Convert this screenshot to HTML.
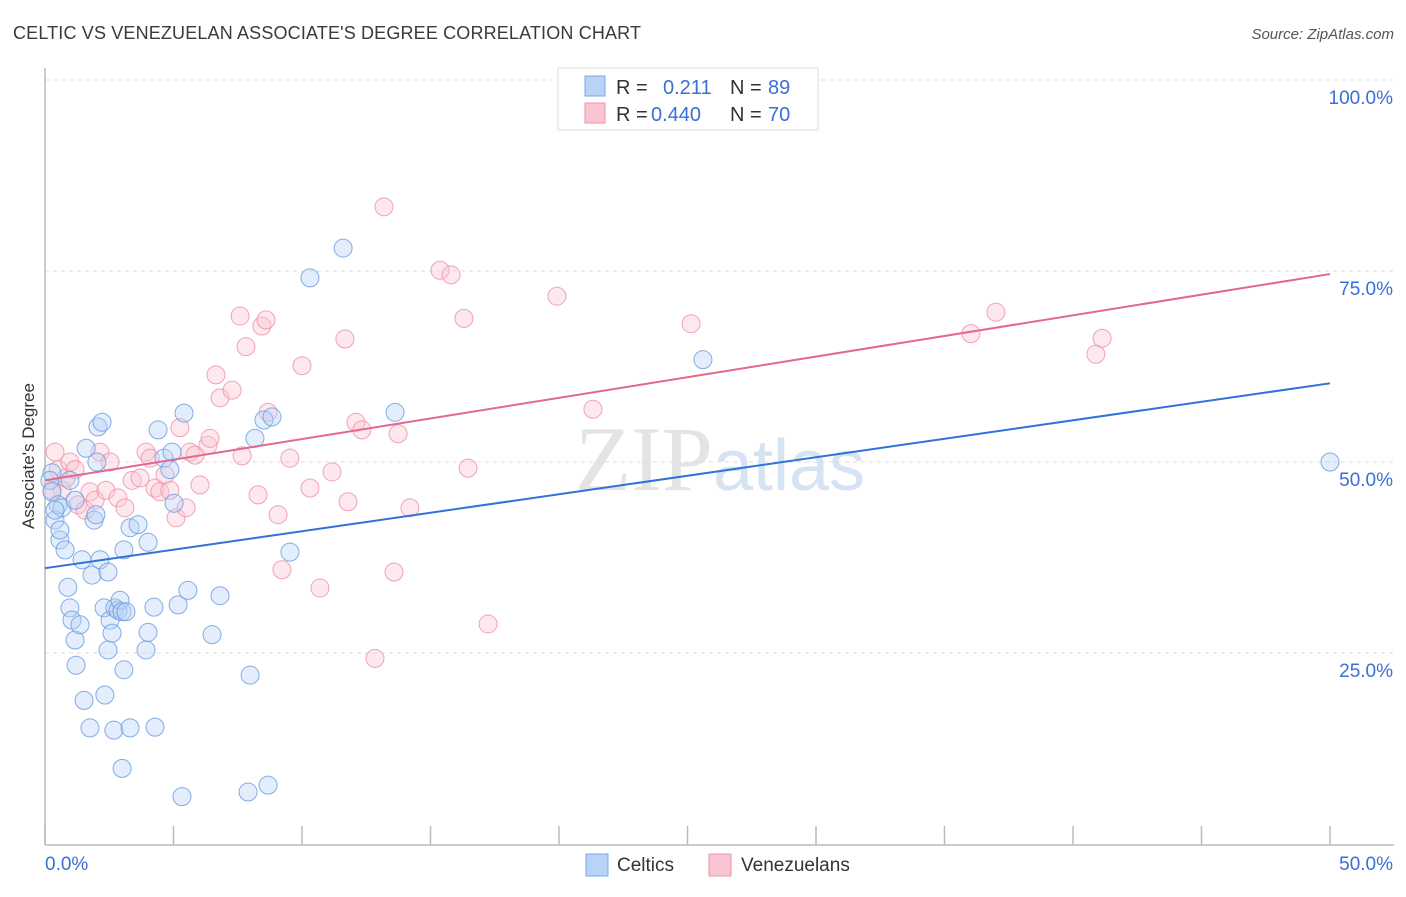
<!DOCTYPE html>
<html><head><meta charset="utf-8"><style>
body{margin:0;background:#fff;font-family:"Liberation Sans",sans-serif}
</style></head><body>
<svg id="chart" width="1406" height="892" xmlns="http://www.w3.org/2000/svg">
<text x="13" y="39" font-size="18" textLength="628" fill="#3a3a3a" font-family="Liberation Sans, sans-serif">CELTIC VS VENEZUELAN ASSOCIATE'S DEGREE CORRELATION CHART</text>
<text x="1394" y="39" font-size="15" fill="#555" text-anchor="end" font-style="italic" font-family="Liberation Sans, sans-serif">Source: ZipAtlas.com</text>
<text x="720" y="490" font-size="92" fill="#e4e4e4" text-anchor="middle" font-family="Liberation Serif, serif">ZIP<tspan fill="#d5e3f3" font-family="Liberation Sans, sans-serif" font-size="72">atlas</tspan></text>
<g id="grid"></g><g id="axes"></g><g id="marks"></g>
<text transform="translate(34,456) rotate(-90)" font-size="17" fill="#333" text-anchor="middle" font-family="Liberation Sans, sans-serif">Associate's Degree</text>
<g font-size="20">
<rect x="558" y="68" width="260" height="62" fill="#fff" stroke="#ddd"/>
<rect x="585" y="76" width="20" height="20" fill="#b8d3f5" stroke="#7aaae8"/>
<rect x="585" y="103" width="20" height="20" fill="#f9c5d3" stroke="#ee93ae"/>
<text x="616" y="94" fill="#333">R =</text><text x="663" y="94" fill="#3a6fd6">0.211</text>
<text x="730" y="94" fill="#333">N =</text><text x="768" y="94" fill="#3a6fd6">89</text>
<text x="616" y="121" fill="#333">R =</text><text x="651" y="121" fill="#3a6fd6">0.440</text>
<text x="730" y="121" fill="#333">N =</text><text x="768" y="121" fill="#3a6fd6">70</text>
</g>
<g>
<rect x="586" y="854" width="22" height="22" fill="#b8d3f5" stroke="#7aaae8"/>
<text x="617" y="871" font-size="19" fill="#333">Celtics</text>
<rect x="709" y="854" width="22" height="22" fill="#f9c5d3" stroke="#ee93ae"/>
<text x="741" y="871" font-size="19" fill="#333">Venezuelans</text>
</g>
</svg>
<script>
const yTicks=[25,50,75,100];
const yTickLabels=["25.0%","50.0%","75.0%","100.0%"];
const xTicks=[0,5,10,15,20,25,30,35,40,45,50];
const blueX=[0.27,0.19,0.27,0.39,0.51,0.58,0.66,0.78,0.89,0.97,1.05,1.17,1.21,1.36,1.44,1.52,1.60,1.75,1.83,1.91,1.98,2.02,2.06,2.22,2.14,2.30,2.33,2.45,2.45,2.53,2.61,2.68,2.72,2.84,2.92,3.00,3.07,3.07,3.00,3.15,3.31,3.31,3.62,3.93,4.01,4.01,4.24,4.28,4.40,4.63,4.86,4.94,5.02,5.18,5.33,5.41,5.56,6.50,6.81,7.98,7.90,8.17,8.52,8.68,8.83,9.53,10.31,11.60,13.62,25.60,50.0,0.39,0.58,1.17,0.97];
const blueY=[48.6,47.6,46.1,42.4,44.4,39.8,44.0,38.5,33.6,30.9,29.3,26.7,23.4,28.7,37.2,18.8,51.8,15.2,35.2,42.4,43.1,50.0,54.6,55.2,37.2,30.9,19.5,25.4,35.6,29.3,27.6,14.9,30.9,30.6,31.9,30.4,22.8,38.5,9.9,30.4,41.4,15.2,41.8,25.4,27.7,39.5,31.0,15.3,54.2,50.5,49.0,51.3,44.6,31.3,6.2,56.4,33.2,27.4,32.5,22.1,6.8,53.1,55.5,7.7,55.9,38.2,74.1,78.0,56.5,63.4,50.0,43.7,41.1,45.0,47.6];
const pinkX=[0.39,0.51,0.66,0.82,0.97,1.17,1.28,1.56,1.75,1.95,2.14,2.37,2.53,2.84,3.11,3.39,3.70,3.93,4.09,4.28,4.47,4.67,4.86,5.10,5.25,5.49,5.64,5.84,6.03,6.34,6.42,6.65,6.81,7.28,7.59,7.67,7.82,8.29,8.44,8.60,8.68,9.07,9.22,9.53,10.00,10.31,10.70,11.17,11.67,11.79,12.10,12.33,12.84,13.19,13.58,13.74,14.20,15.37,15.80,16.30,16.46,17.24,19.92,21.32,25.14,36.03,37.00,40.89,41.13,0.27];
const pinkY=[51.3,49.0,46.3,47.9,50.0,49.0,44.4,43.7,46.1,45.0,51.3,46.3,50.0,45.3,44.0,47.6,47.9,51.3,50.5,46.6,46.1,48.3,46.3,42.7,54.5,44.0,51.3,50.9,47.0,52.2,53.1,61.4,58.4,59.4,69.1,50.8,65.1,45.7,67.8,68.6,56.5,43.1,35.9,50.5,62.6,46.6,33.5,48.7,66.1,44.8,55.2,54.2,24.3,83.4,35.6,53.7,44.0,75.1,74.5,68.8,49.2,28.8,71.7,56.9,68.1,66.8,69.6,64.1,66.2,46.3];
const blueTrend=[36.1,60.3];
const pinkTrend=[47.6,74.6];
const NS="http://www.w3.org/2000/svg";
const X=v=>45+v/50*1285, Y=v=>844-v/100*764;
function mk(t,a,p){const e=document.createElementNS(NS,t);for(const k in a)e.setAttribute(k,a[k]);p.appendChild(e);return e;}
const grid=document.getElementById('grid'),axes=document.getElementById('axes'),marks=document.getElementById('marks');
yTicks.forEach((t,i)=>{
 const l=mk('line',{x1:45,x2:1394,y1:Y(t),y2:Y(t),stroke:'#ddd','stroke-dasharray':'4,4'},grid);
 
 
 const tx=mk('text',{x:1393,y:Y(t)+24,'text-anchor':'end','font-size':19,fill:'#3a6fd6'},axes);
 tx.textContent=yTickLabels[i];
 
 
});
const ax=mk('line',{x1:45,x2:1394,y1:845,y2:845,stroke:'#bbb','stroke-width':1.5},axes);


const ay=mk('line',{x1:45,x2:45,y1:68,y2:845,stroke:'#bbb','stroke-width':1.5},axes);


xTicks.forEach(t=>{
 const l=mk('line',{x1:X(t),x2:X(t),y1:826,y2:845,stroke:'#bbb','stroke-width':1.5},axes);
 
 
});
const x0=mk('text',{x:45,y:870,'font-size':19,fill:'#3a6fd6'},axes);x0.textContent='0.0%';


const x1=mk('text',{x:1393,y:870,'font-size':19,fill:'#3a6fd6','text-anchor':'end'},axes);x1.textContent='50.0%';


function pts(xs,ys,fill,stroke,name){xs.forEach((v,i)=>{
 const c=mk('circle',{cx:X(v),cy:Y(ys[i]),r:9,fill:fill,'fill-opacity':0.4,stroke:stroke,'stroke-width':1,'stroke-opacity':0.85},marks);
 
 
});}
pts(pinkX,pinkY,'#f9c5d3','#ee93ae','venezuelan-point');
pts(blueX,blueY,'#b8d3f5','#6e9fe2','celtic-point');
const tb=mk('line',{x1:X(0),y1:Y(blueTrend[0]),x2:X(50),y2:Y(blueTrend[1]),stroke:'#2f72d8','stroke-width':2},marks);


const tp=mk('line',{x1:X(0),y1:Y(pinkTrend[0]),x2:X(50),y2:Y(pinkTrend[1]),stroke:'#e4678f','stroke-width':2},marks);


</script>
</body></html>
